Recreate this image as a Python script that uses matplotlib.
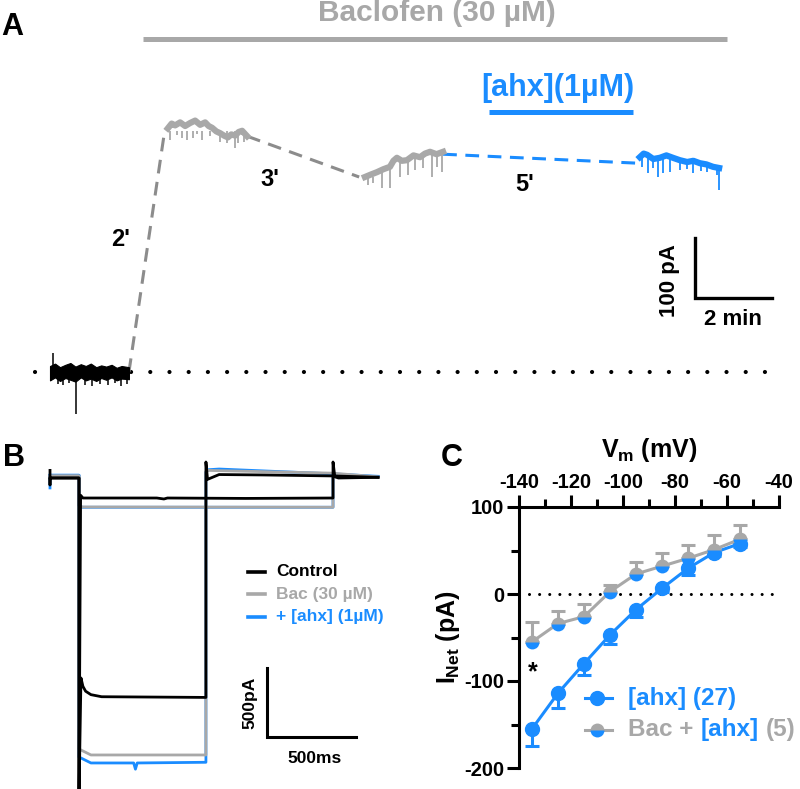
import matplotlib
matplotlib.use('Agg')
import matplotlib.pyplot as plt
from matplotlib.offsetbox import TextArea, HPacker, AnnotationBbox

plt.rcParams['font.family'] = ['Liberation Sans', 'DejaVu Sans']
plt.rcParams['font.weight'] = 'bold'
plt.rcParams['axes.labelweight'] = 'bold'
plt.rcParams['axes.unicode_minus'] = False
plt.rcParams['mathtext.fontset'] = 'custom'
plt.rcParams['mathtext.rm'] = 'Liberation Sans:bold'
plt.rcParams['mathtext.it'] = 'Liberation Sans:bold'
plt.rcParams['mathtext.bf'] = 'Liberation Sans:bold'

BLUE = '#1a8cff'
GRAY = '#a8a8a8'
DGRAY = '#8c8c8c'

# ---------- panel A : holding current (time in min, current in pA) ----------
ctrl_t = [0, .13, .26, .4, .53, .66, .8, .93, 1.06, 1.2, 1.33, 1.46, 1.6, 1.73, 1.86, 2.05]
ctrl_hi = [10, 14, 8, 12, 15, 9, 13, 10, 14, 8, 11, 9, 12, 7, 10, 8]
ctrl_lo = [-14, -9, -15, -10, -13, -16, -9, -14, -11, -15, -10, -13, -9, -14, -11, -12]
ctrl_spk_t = [0.08, 0.2, 0.35, 0.5, 0.68, 0.9, 1.1, 1.3, 1.5, 1.7, 1.85, 2.0]
ctrl_spk_i = [32, -20, -22, -18, -70, -22, -24, -20, -22, -19, -24, -20]

bac1_t = [3.06, 3.16, 3.25, 3.38, 3.51, 3.64, 3.77, 3.9, 4.03, 4.12, 4.21, 4.32, 4.42, 4.52, 4.62, 4.71, 4.81, 4.9, 4.99, 5.12]
bac1_i = [406, 414, 411, 416, 410, 415, 419, 412, 416, 410, 407, 401, 398, 394, 391, 396, 394, 400, 402, 393]
bac1_spk_t = [3.12, 3.3, 3.43, 3.56, 3.71, 3.82, 3.95, 4.16, 4.42, 4.6, 4.81, 4.88, 5.05]
bac1_spk_i = [387, 395, 390, 387, 390, 396, 387, 394, 383, 382, 373, 382, 384]

bac2_t = [8.18, 8.33, 8.49, 8.66, 8.83, 8.92, 9.01, 9.14, 9.27, 9.44, 9.61, 9.74, 9.87, 10.04, 10.21]
bac2_i = [325, 329, 333, 338, 342, 352, 357, 352, 353, 361, 358, 364, 367, 363, 367]
bac2_spk_t = [8.26, 8.39, 8.62, 8.83, 9.09, 9.30, 9.48, 9.69, 9.92, 10.05, 10.18]
bac2_spk_i = [312, 315, 307, 307, 325, 328, 337, 340, 325, 342, 333]

ahx_t = [15.32, 15.42, 15.51, 15.67, 15.84, 16.01, 16.18, 16.36, 16.55, 16.71, 16.88, 17.05, 17.22, 17.38]
ahx_i = [358, 364, 362, 355, 357, 361, 357, 353, 350, 352, 348, 346, 342, 340]
ahx_spk_t = [15.38, 15.53, 15.66, 15.79, 15.92, 16.10, 16.36, 16.55, 16.70, 16.9, 17.06, 17.32, 17.38]
ahx_spk_i = [342, 332, 340, 325, 332, 333, 337, 338, 332, 335, 333, 328, 303]

# ---------- panel B : step currents (time in ms, current in pA) ----------
ctl_s_t = [0, 0, 0, 163, 163, 172, 185, 600, 640, 660, 1100, 1590, 1590, 1600, 1620, 1843]
ctl_s_i = [55, -50, 0, 0, -2300, -125, -145, -145, -152, -145, -148, -145, 116, 10, 0, 5]
ctl_b_t = [0, 163, 163, 174, 185, 200, 230, 290, 876, 876, 885, 950, 1200, 1590, 1843]
ctl_b_i = [0, 0, -2300, -1449, -1510, -1545, -1570, -1585, -1590, 116, -10, 25, 22, 15, 5]
bac_s_t = [0, 163, 163, 180, 1590, 1590, 1843]
bac_s_i = [15, 15, -195, -210, -212, 5, 5]
bac_b_t = [0, 163, 163, 230, 876, 876, 890, 1590, 1843]
bac_b_i = [15, 15, -1964, -2007, -2007, 45, 55, 35, 8]
ahx_s_t = [0, 0, 0, 163, 163, 180, 1590, 1590, 1843]
ahx_s_i = [-72, 25, 20, 20, -200, -212, -212, 10, 12]
ahx_b_t = [0, 163, 163, 230, 470, 480, 490, 876, 876, 890, 950, 1590, 1843]
ahx_b_i = [20, 20, -2022, -2065, -2065, -2110, -2065, -2060, 43, 60, 65, 30, 12]

# ---------- panel C : I-V ----------
vm = [-135, -125, -115, -105, -95, -85, -75, -65, -55]
inet_ahx = [-155, -114, -80, -47, -18, 6.5, 29.5, 47.5, 58]
err_ahx = [20, 17, 13, 10, 8, 4, 8, 4, 4]
inet_bac = [-55, -34, -26, 2.7, 23, 32, 41, 51, 63]
err_bac = [23, 14, 14.5, 8, 14, 15.5, 15, 17, 16]
no_err = [0] * len(vm)

W, H = 800, 789
fig = plt.figure(figsize=(8, 7.89), dpi=100)


def fig_rect(x0, y0, x1, y1):
    return [x0 / W, 1 - y1 / H, (x1 - x0) / W, (y1 - y0) / H]


# ===== A =====
axA = fig.add_axes(fig_rect(0, 0, 800, 430))
axA.set_xlim(-50 / 38.5, 750 / 38.5)
axA.set_ylim(-58 / 0.6, 372 / 0.6)
axA.axis('off')

axA.plot([-0.39, 19.0], [0, 0], color='black', lw=3.0, linestyle=(0, (0.01, 4.6)),
         dash_capstyle='round', zorder=1)
axA.fill_between(ctrl_t, ctrl_lo, ctrl_hi, color='black', lw=0.8, zorder=3)
axA.vlines(ctrl_spk_t, 0, ctrl_spk_i, color='black', lw=1.1, zorder=3)

axA.plot(bac1_t, bac1_i, color=GRAY, lw=4.5, zorder=3)
axA.vlines(bac1_spk_t, 402, bac1_spk_i, color=GRAY, lw=1.3, zorder=3)
axA.plot(bac2_t, bac2_i, color=GRAY, lw=4.5, zorder=3)
axA.vlines(bac2_spk_t, [325, 325, 333, 342, 357, 353, 357, 358, 367, 363, 367], bac2_spk_i,
           color=GRAY, lw=1.3, zorder=3)
axA.plot(ahx_t, ahx_i, color=BLUE, lw=4.5, zorder=3)
axA.vlines(ahx_spk_t, [358, 362, 355, 357, 357, 357, 353, 350, 350, 348, 345, 342, 340], ahx_spk_i,
           color=BLUE, lw=1.3, zorder=3)

dash = (0, (4.5, 2.8))
axA.plot([ctrl_t[-1], bac1_t[0] - 0.1], [0, bac1_i[0] - 12], color=DGRAY, lw=2.2, linestyle=dash)
axA.plot([bac1_t[-1], bac2_t[0] - 0.15], [bac1_i[-1], bac2_i[0]], color=DGRAY, lw=2.2, linestyle=dash)
axA.plot([bac2_t[-1], ahx_t[0] - 0.05], [bac2_i[-1] - 4, ahx_i[0] - 10], color=BLUE, lw=2.2, linestyle=dash)

axA.plot([2.42, 17.58], [555, 555], color=GRAY, lw=3.6, solid_capstyle='butt')
axA.text(10.05, 598, 'Baclofen (30 µM)', color=GRAY, fontsize=21.5, ha='center', va='center')
axA.plot([11.40, 15.14], [433, 433], color=BLUE, lw=3.6, solid_capstyle='butt')
axA.text(13.19, 473, '[ahx](1µM)', color=BLUE, fontsize=22, ha='center', va='center')

axA.text(1.84, 220, "2'", fontsize=17, ha='center', va='center')
axA.text(5.71, 320, "3'", fontsize=17, ha='center', va='center')
axA.text(12.34, 312, "5'", fontsize=17, ha='center', va='center')

axA.plot([16.75, 16.75, 18.75], [223, 123, 123], color='black', lw=2.4, solid_joinstyle='miter')
axA.text(16.10, 152, '100 pA', fontsize=16, rotation=90, ha='center', va='center')
axA.text(17.74, 87, '2 min', fontsize=16, ha='center', va='center')

# ===== B =====
axB = fig.add_axes(fig_rect(40, 440, 400, 789))
axB.set_xlim(-10 / 0.178, 350 / 0.178)
axB.set_ylim(-311 / 0.138, 38 / 0.138)
axB.axis('off')
for tt, ii in [(ahx_s_t, ahx_s_i), (ahx_b_t, ahx_b_i)]:
    axB.plot(tt, ii, color=BLUE, lw=2, zorder=1)
for tt, ii in [(bac_s_t, bac_s_i), (bac_b_t, bac_b_i)]:
    axB.plot(tt, ii, color=GRAY, lw=2, zorder=2)
for tt, ii in [(ctl_s_t, ctl_s_i), (ctl_b_t, ctl_b_i)]:
    axB.plot(tt, ii, color='black', lw=2, zorder=3)

leg_y = [-681, -841, -1007]
for y, c, lab in zip(leg_y, ['black', GRAY, BLUE], ['Control', 'Bac (30 µM)', '+ [ahx] (1µM)']):
    axB.plot([1112, 1208], [y, y], color=c, lw=2.6)
    axB.text(1270, y, lab, color=c, fontsize=12.5, va='center', ha='left')

axB.plot([1219, 1219, 1719], [-1377, -1877, -1877], color='black', lw=2.2, solid_joinstyle='miter')
axB.text(1124, -1630, '500pA', fontsize=12.5, rotation=90, ha='center', va='center')
axB.text(1489, -2036, '500ms', fontsize=12.5, ha='center', va='center')

# ===== C =====
axC = fig.add_axes(fig_rect(519, 507, 779, 768))
axC.set_xlim(-140, -40)
axC.set_ylim(-200, 100)
for s in ['right', 'bottom']:
    axC.spines[s].set_visible(False)
for s in ['left', 'top']:
    axC.spines[s].set_linewidth(2.2)
axC.xaxis.tick_top()
axC.xaxis.set_label_position('top')
axC.set_xticks(range(-140, -39, 20))
axC.set_xticks(range(-130, -40, 20), minor=True)
axC.set_yticks([-200, -100, 0, 100])
axC.set_yticks([-150, -50, 50], minor=True)
axC.tick_params(which='major', width=2.2, length=8.5, labelsize=14.5, pad=2)
axC.tick_params(which='minor', width=2.2, length=6)
for lbl in axC.get_xticklabels() + axC.get_yticklabels():
    lbl.set_fontweight('bold')
axC.set_xlabel('$V_m$ (mV)', fontsize=18, labelpad=12)
axC.set_ylabel('$I_{Net}$ (pA)', fontsize=18, labelpad=2)

axC.plot([-136, -40], [0, 0], color='black', lw=2.2, linestyle=(0, (0.01, 3.3)),
         dash_capstyle='round', zorder=1)

axC.errorbar(vm, inet_ahx, yerr=[err_ahx, no_err], color=BLUE, lw=2.2, marker='o', ms=10,
             mec=BLUE, capsize=5, elinewidth=2.2, capthick=2.2, zorder=3, clip_on=False)
axC.errorbar(vm, inet_bac, yerr=[no_err, err_bac], color=GRAY, lw=2.2, marker='o', ms=10,
             fillstyle='top', mfc=GRAY, mfcalt=BLUE, mec='none', capsize=5,
             elinewidth=2.2, capthick=2.2, zorder=4, clip_on=False)
axC.text(-134.6, -90, '*', fontsize=18, ha='center', va='center')

# manual legend for C
axC.plot([0.254, 0.358], [0.268, 0.268], transform=axC.transAxes, color=BLUE, lw=2.2, clip_on=False)
axC.plot([0.30], [0.268], transform=axC.transAxes, color=BLUE, marker='o', ms=10, clip_on=False)
axC.plot([0.254, 0.358], [0.146, 0.146], transform=axC.transAxes, color=GRAY, lw=2.2, clip_on=False)
axC.plot([0.30], [0.146], transform=axC.transAxes, marker='o', ms=10, fillstyle='top',
         mfc=GRAY, mfcalt=BLUE, mec='none', clip_on=False)


def colored_label(parts, y):
    boxes = [TextArea(s, textprops=dict(color=c, fontsize=17.5, fontweight='bold')) for s, c in parts]
    pack = HPacker(children=boxes, align='baseline', pad=0, sep=5)
    ab = AnnotationBbox(pack, (0.419, y), xycoords=axC.transAxes, box_alignment=(0, 0.5),
                        frameon=False, pad=0, annotation_clip=False)
    axC.add_artist(ab)


colored_label([('[ahx] (27)', BLUE)], 0.268)
colored_label([('Bac +', GRAY), ('[ahx]', BLUE), ('(5)', GRAY)], 0.146)

# panel letters
for lab, x, y in [('A', 12, 27), ('B', 14, 458), ('C', 452, 458)]:
    fig.text(x / W, 1 - y / H, lab, fontsize=22, ha='center', va='center')

fig.savefig('out.png', dpi=100)
